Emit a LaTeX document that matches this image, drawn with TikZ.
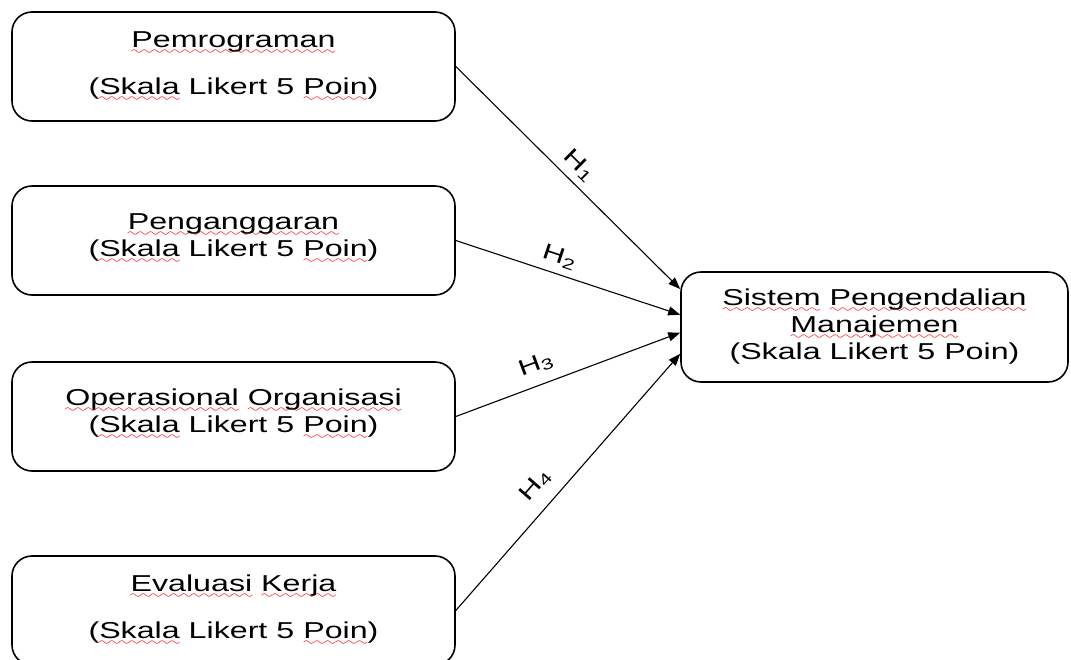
\documentclass[tikz,border=0pt]{standalone}
\usepackage{fontspec}
\setmainfont{Liberation Sans}[FakeStretch=1.4]
\usepackage{xcolor}
\usetikzlibrary{arrows.meta,calc}

% red wavy mark under a word
\font\wavefont=lasy6
\newcommand{\spell}[1]{\setbox0\hbox{#1}\rlap{\textcolor{red}{\lower3.5pt\hbox to\wd0{\xleaders\hbox{\wavefont\char58}\hfil}}}\box0\relax}

\tikzset{
	varbox/.style={draw,rounded corners=10pt,line width=0.8pt,minimum width=221.5pt,minimum height=54.5pt,align=center,font=\fontsize{11.5}{13.5}\selectfont},
	hyp/.style={-{Triangle[length=6pt,width=4.5pt]},line width=0.55pt},
	hlab/.style={sloped,above,font=\fontsize{11}{13}\selectfont}
}

\begin{document}
\begin{tikzpicture}[x=0.5pt,y=-0.5pt]
		\useasboundingbox (0,0) rectangle (1071,659);
		\clip (0,0) rectangle (1071,659);
		\node[varbox] (pem) at (233.5,66.5) {\spell{Pemrograman}\\[10pt](\spell{Skala} Likert 5 \spell{Poin})};
		\node[varbox] (ang) at (233.5,240.5) {\spell{Penganggaran}\\(\spell{Skala} Likert 5 \spell{Poin})\\[-8pt]\mbox{}};
		\node[varbox] (ops) at (233.5,416.5) {\spell{Operasional} \spell{Organisasi}\\(\spell{Skala} Likert 5 \spell{Poin})\\[-8pt]\mbox{}};
		\node[varbox] (eva) at (233.5,610.5) {\spell{Evaluasi} \spell{Kerja}\\[10pt](\spell{Skala} Likert 5 \spell{Poin})};
		\node[varbox,minimum width=193.5pt,minimum height=55pt] (spm) at (874.5,327) {\spell{Sistem} \spell{Pengendalian}\\\spell{Manajemen}\\(Skala Likert 5 Poin)};
		% arrow ends on the left side of spm
		\coordinate (e1) at ($(spm.north west)!0.16!(spm.south west)$);
		\coordinate (e2) at ($(spm.north west)!0.39!(spm.south west)$);
		\coordinate (e3) at ($(spm.north west)!0.55!(spm.south west)$);
		\coordinate (e4) at ($(spm.north west)!0.74!(spm.south west)$);
		\draw[hyp] (pem.east) -- (e1) node[hlab,pos=0.5]{H\textsubscript{1}};
		\draw[hyp] (ang.east) -- (e2) node[hlab,pos=0.44]{H\textsubscript{2}};
		\draw[hyp] (ops.east) -- (e3) node[hlab,pos=0.39,yshift=2pt]{H\textsubscript{3}};
		\draw[hyp] (eva.east) -- (e4) node[hlab,pos=0.43,yshift=3pt]{H\textsubscript{4}};
	\end{tikzpicture}
\end{document}
